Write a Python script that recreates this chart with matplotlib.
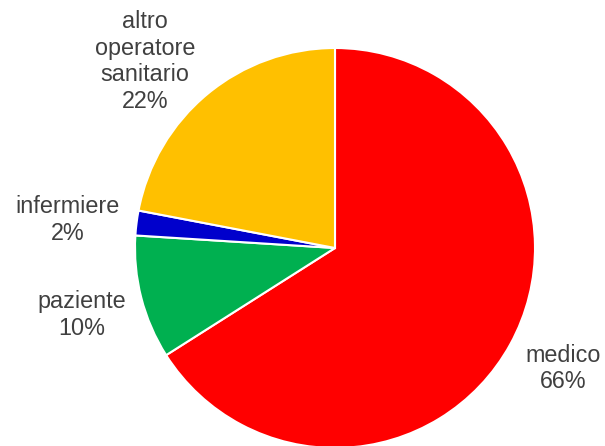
import numpy as np
import matplotlib
matplotlib.use("Agg")
import matplotlib.pyplot as plt

categories = ["medico", "paziente", "infermiere", "altro\noperatore\nsanitario"]
values = [66, 10, 2, 22]
colors = ["#FF0000", "#00B050", "#0000CC", "#FFC000"]

# label placement (radius in pie units, angle in degrees)
label_r = [1.29, 1.31, 1.345, 1.33]
label_ang = [-27.8, 194.8, 174.0, 135.5]

plt.rcParams['font.family'] = ['Liberation Sans', 'DejaVu Sans']

fig = plt.figure(figsize=(6.05, 4.46), dpi=100)
ax = fig.add_axes([135 / 605, (446 - 448) / 446, 400 / 605, 400 / 446])

wedges, _ = ax.pie(values, colors=colors, startangle=90, counterclock=False,
                   wedgeprops=dict(edgecolor="white", linewidth=1.5))
ax.set_xlim(-1, 1)
ax.set_ylim(-1, 1)
ax.set_aspect("auto")
ax.axis("off")

total = sum(values)
for cat, v, r, a in zip(categories, values, label_r, label_ang):
    t = np.deg2rad(a)
    ax.text(r * np.cos(t), r * np.sin(t), f"{cat}\n{round(100 * v / total)}%",
            ha="center", va="center", multialignment="center",
            fontsize=16.8, color="#404040", linespacing=1.2, clip_on=False)

fig.savefig("out.png", dpi=100)
